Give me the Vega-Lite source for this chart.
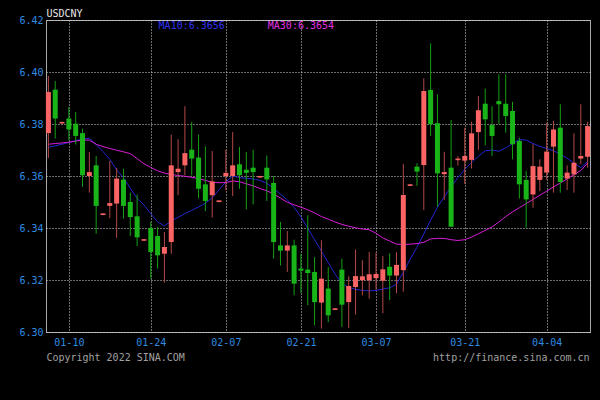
{
  "$schema": "https://vega.github.io/schema/vega-lite/v6.json",
  "autosize": {"type": "none"},
  "padding": {"left": 46, "top": 20, "right": 10, "bottom": 68},
  "width": 544,
  "height": 312,
  "background": "#000000",
  "config": {
    "view": {"stroke": "#a8a8a8", "strokeWidth": 1},
    "axis": {
      "domain": false, "ticks": false,
      "labelFont": "DejaVu Sans Mono", "labelFontSize": 10, "labelColor": "#2f8be0",
      "gridColor": "#d8d8d8", "gridDash": [1, 2], "gridWidth": 1, "gridOpacity": 1
    },
    "text": {"font": "DejaVu Sans Mono", "fontSize": 10}
  },
  "data": {"values": [
{"d":"01-06","o":6.3765,"h":6.3985,"l":6.3669,"c":6.3923,"m10":6.3710,"m30":6.3722},
{"d":"01-07","o":6.3932,"h":6.3965,"l":6.3744,"c":6.3821,"m10":6.3716,"m30":6.3725},
{"d":"01-08","o":6.3802,"h":6.3809,"l":6.3801,"c":6.3808,"m10":6.3722,"m30":6.3727},
{"d":"01-10","o":6.3821,"h":6.3865,"l":6.3737,"c":6.3779,"m10":6.3729,"m30":6.3730},
{"d":"01-11","o":6.3801,"h":6.3846,"l":6.3721,"c":6.3754,"m10":6.3736,"m30":6.3734},
{"d":"01-12","o":6.3765,"h":6.3782,"l":6.3558,"c":6.3603,"m10":6.3742,"m30":6.3739},
{"d":"01-13","o":6.3600,"h":6.3692,"l":6.3536,"c":6.3615,"m10":6.3745,"m30":6.3738},
{"d":"01-14","o":6.3641,"h":6.3677,"l":6.3378,"c":6.3485,"m10":6.3721,"m30":6.3722},
{"d":"01-15","o":6.3450,"h":6.3457,"l":6.3449,"c":6.3456,"m10":6.3694,"m30":6.3713},
{"d":"01-17","o":6.3485,"h":6.3658,"l":6.3438,"c":6.3496,"m10":6.3664,"m30":6.3706},
{"d":"01-18","o":6.3494,"h":6.3631,"l":6.3362,"c":6.3590,"m10":6.3623,"m30":6.3699},
{"d":"01-19","o":6.3586,"h":6.3628,"l":6.3436,"c":6.3485,"m10":6.3593,"m30":6.3693},
{"d":"01-20","o":6.3500,"h":6.3536,"l":6.3369,"c":6.3442,"m10":6.3553,"m30":6.3686},
{"d":"01-21","o":6.3445,"h":6.3529,"l":6.3331,"c":6.3364,"m10":6.3514,"m30":6.3667},
{"d":"01-22","o":6.3351,"h":6.3358,"l":6.3350,"c":6.3357,"m10":6.3489,"m30":6.3647},
{"d":"01-24","o":6.3400,"h":6.3423,"l":6.3205,"c":6.3308,"m10":6.3455,"m30":6.3633},
{"d":"01-25","o":6.3369,"h":6.3404,"l":6.3244,"c":6.3295,"m10":6.3424,"m30":6.3620},
{"d":"01-26","o":6.3301,"h":6.3385,"l":6.3190,"c":6.3327,"m10":6.3408,"m30":6.3611},
{"d":"01-27","o":6.3346,"h":6.3759,"l":6.3301,"c":6.3641,"m10":6.3427,"m30":6.3606},
{"d":"01-28","o":6.3615,"h":6.3741,"l":6.3526,"c":6.3628,"m10":6.3441,"m30":6.3602},
{"d":"01-31","o":6.3641,"h":6.3868,"l":6.3603,"c":6.3688,"m10":6.3455,"m30":6.3599},
{"d":"02-01","o":6.3701,"h":6.3808,"l":6.3603,"c":6.3667,"m10":6.3468,"m30":6.3595},
{"d":"02-02","o":6.3671,"h":6.3759,"l":6.3515,"c":6.3551,"m10":6.3481,"m30":6.3590},
{"d":"02-03","o":6.3568,"h":6.3714,"l":6.3465,"c":6.3504,"m10":6.3495,"m30":6.3583},
{"d":"02-04","o":6.3526,"h":6.3696,"l":6.3440,"c":6.3579,"m10":6.3516,"m30":6.3576},
{"d":"02-05","o":6.3500,"h":6.3507,"l":6.3499,"c":6.3506,"m10":6.3547,"m30":6.3574},
{"d":"02-07","o":6.3600,"h":6.3701,"l":6.3545,"c":6.3612,"m10":6.3577,"m30":6.3575},
{"d":"02-08","o":6.3600,"h":6.3769,"l":6.3523,"c":6.3641,"m10":6.3600,"m30":6.3581},
{"d":"02-09","o":6.3645,"h":6.3712,"l":6.3551,"c":6.3603,"m10":6.3594,"m30":6.3578},
{"d":"02-10","o":6.3624,"h":6.3692,"l":6.3472,"c":6.3612,"m10":6.3591,"m30":6.3570},
{"d":"02-11","o":6.3632,"h":6.3701,"l":6.3491,"c":6.3615,"m10":6.3589,"m30":6.3562},
{"d":"02-12","o":6.3594,"h":6.3601,"l":6.3593,"c":6.3600,"m10":6.3583,"m30":6.3552},
{"d":"02-14","o":6.3632,"h":6.3679,"l":6.3504,"c":6.3587,"m10":6.3572,"m30":6.3543},
{"d":"02-15","o":6.3573,"h":6.3600,"l":6.3282,"c":6.3346,"m10":6.3552,"m30":6.3531},
{"d":"02-16","o":6.3333,"h":6.3423,"l":6.3256,"c":6.3313,"m10":6.3530,"m30":6.3515},
{"d":"02-17","o":6.3313,"h":6.3388,"l":6.3231,"c":6.3333,"m10":6.3508,"m30":6.3499},
{"d":"02-18","o":6.3333,"h":6.3355,"l":6.3141,"c":6.3186,"m10":6.3479,"m30":6.3489},
{"d":"02-21","o":6.3244,"h":6.3300,"l":6.3150,"c":6.3236,"m10":6.3443,"m30":6.3480},
{"d":"02-22","o":6.3240,"h":6.3449,"l":6.3103,"c":6.3227,"m10":6.3399,"m30":6.3470},
{"d":"02-23","o":6.3231,"h":6.3288,"l":6.3026,"c":6.3115,"m10":6.3355,"m30":6.3458},
{"d":"02-24","o":6.3113,"h":6.3353,"l":6.3013,"c":6.3205,"m10":6.3311,"m30":6.3444},
{"d":"02-25","o":6.3167,"h":6.3250,"l":6.3038,"c":6.3064,"m10":6.3267,"m30":6.3434},
{"d":"02-26","o":6.3085,"h":6.3092,"l":6.3084,"c":6.3091,"m10":6.3223,"m30":6.3423},
{"d":"02-28","o":6.3240,"h":6.3282,"l":6.3019,"c":6.3105,"m10":6.3187,"m30":6.3414},
{"d":"03-01","o":6.3115,"h":6.3214,"l":6.3015,"c":6.3177,"m10":6.3172,"m30":6.3407},
{"d":"03-02","o":6.3173,"h":6.3317,"l":6.3067,"c":6.3215,"m10":6.3164,"m30":6.3401},
{"d":"03-03","o":6.3199,"h":6.3276,"l":6.3141,"c":6.3214,"m10":6.3160,"m30":6.3396},
{"d":"03-04","o":6.3199,"h":6.3308,"l":6.3128,"c":6.3222,"m10":6.3158,"m30":6.3393},
{"d":"03-07","o":6.3207,"h":6.3305,"l":6.3162,"c":6.3223,"m10":6.3160,"m30":6.3380},
{"d":"03-08","o":6.3197,"h":6.3293,"l":6.3072,"c":6.3241,"m10":6.3165,"m30":6.3362},
{"d":"03-09","o":6.3251,"h":6.3303,"l":6.3123,"c":6.3217,"m10":6.3170,"m30":6.3350},
{"d":"03-10","o":6.3217,"h":6.3307,"l":6.3149,"c":6.3258,"m10":6.3184,"m30":6.3338},
{"d":"03-11","o":6.3238,"h":6.3646,"l":6.3155,"c":6.3527,"m10":6.3230,"m30":6.3336},
{"d":"03-12","o":6.3562,"h":6.3569,"l":6.3561,"c":6.3568,"m10":6.3280,"m30":6.3338},
{"d":"03-14","o":6.3636,"h":6.3649,"l":6.3562,"c":6.3617,"m10":6.3326,"m30":6.3340},
{"d":"03-15","o":6.3642,"h":6.3976,"l":6.3469,"c":6.3927,"m10":6.3377,"m30":6.3345},
{"d":"03-16","o":6.3931,"h":6.4110,"l":6.3754,"c":6.3799,"m10":6.3430,"m30":6.3358},
{"d":"03-17","o":6.3803,"h":6.3914,"l":6.3482,"c":6.3610,"m10":6.3480,"m30":6.3360},
{"d":"03-18","o":6.3607,"h":6.3693,"l":6.3508,"c":6.3615,"m10":6.3520,"m30":6.3360},
{"d":"03-19","o":6.3632,"h":6.3815,"l":6.3405,"c":6.3405,"m10":6.3558,"m30":6.3355},
{"d":"03-20","o":6.3661,"h":6.3676,"l":6.3640,"c":6.3667,"m10":6.3594,"m30":6.3352},
{"d":"03-21","o":6.3659,"h":6.3786,"l":6.3569,"c":6.3677,"m10":6.3625,"m30":6.3355},
{"d":"03-22","o":6.3662,"h":6.3809,"l":6.3629,"c":6.3764,"m10":6.3652,"m30":6.3365},
{"d":"03-23","o":6.3769,"h":6.3908,"l":6.3700,"c":6.3853,"m10":6.3676,"m30":6.3378},
{"d":"03-24","o":6.3878,"h":6.3936,"l":6.3718,"c":6.3818,"m10":6.3697,"m30":6.3391},
{"d":"03-25","o":6.3796,"h":6.3869,"l":6.3677,"c":6.3754,"m10":6.3700,"m30":6.3404},
{"d":"03-26","o":6.3888,"h":6.3991,"l":6.3799,"c":6.3876,"m10":6.3695,"m30":6.3423},
{"d":"03-28","o":6.3878,"h":6.3991,"l":6.3767,"c":6.3831,"m10":6.3708,"m30":6.3444},
{"d":"03-29","o":6.3850,"h":6.3885,"l":6.3664,"c":6.3722,"m10":6.3725,"m30":6.3462},
{"d":"03-30","o":6.3735,"h":6.3747,"l":6.3513,"c":6.3568,"m10":6.3740,"m30":6.3478},
{"d":"03-31","o":6.3585,"h":6.3619,"l":6.3401,"c":6.3510,"m10":6.3738,"m30":6.3494},
{"d":"04-01","o":6.3529,"h":6.3722,"l":6.3478,"c":6.3638,"m10":6.3725,"m30":6.3510},
{"d":"04-02","o":6.3585,"h":6.3664,"l":6.3542,"c":6.3636,"m10":6.3714,"m30":6.3526},
{"d":"04-04","o":6.3613,"h":6.3805,"l":6.3585,"c":6.3694,"m10":6.3706,"m30":6.3542},
{"d":"04-05","o":6.3713,"h":6.3812,"l":6.3536,"c":6.3779,"m10":6.3697,"m30":6.3558},
{"d":"04-06","o":6.3786,"h":6.3876,"l":6.3536,"c":6.3577,"m10":6.3684,"m30":6.3573},
{"d":"04-07","o":6.3590,"h":6.3641,"l":6.3546,"c":6.3613,"m10":6.3668,"m30":6.3589},
{"d":"04-08","o":6.3606,"h":6.3764,"l":6.3536,"c":6.3651,"m10":6.3650,"m30":6.3605},
{"d":"04-09","o":6.3667,"h":6.3876,"l":6.3645,"c":6.3677,"m10":6.3632,"m30":6.3621},
{"d":"04-11","o":6.3674,"h":6.3808,"l":6.3632,"c":6.3792,"m10":6.3656,"m30":6.3650}
  ]},
  "encoding": {
    "x": {
      "field": "d", "type": "ordinal", "title": null,
      "scale": {"type": "point", "padding": 0.35},
      "axis": {"values": ["01-10", "01-24", "02-07", "02-21", "03-07", "03-21", "04-04"], "labelAngle": 0, "labelPadding": 5, "grid": true}
    }
  },
  "layer": [
    {
      "mark": {"type": "line", "color": "#2424d0", "strokeWidth": 1},
      "encoding": {
        "y": {"field": "m10", "type": "quantitative", "title": null,
              "scale": {"domain": [6.3, 6.42], "nice": false, "zero": false},
              "axis": {"values": [6.3, 6.32, 6.34, 6.36, 6.38, 6.4, 6.42], "format": ".2f", "labelPadding": 3, "grid": true}}
      }
    },
    {
      "mark": {"type": "line", "color": "#d81ed8", "strokeWidth": 1},
      "encoding": {
        "y": {"field": "m30", "type": "quantitative", "title": null,
              "scale": {"domain": [6.3, 6.42], "nice": false, "zero": false}}
      }
    },
    {
      "mark": {"type": "rule", "strokeWidth": 1},
      "encoding": {
        "y": {"field": "l", "type": "quantitative", "title": null,
              "scale": {"domain": [6.3, 6.42], "nice": false, "zero": false}},
        "y2": {"field": "h"},
        "color": {"condition": {"test": "datum.c >= datum.o", "value": "#b44848"}, "value": "#14a014"}
      }
    },
    {
      "mark": {"type": "bar", "width": 5},
      "encoding": {
        "y": {"field": "o", "type": "quantitative", "title": null,
              "scale": {"domain": [6.3, 6.42], "nice": false, "zero": false}},
        "y2": {"field": "c"},
        "color": {"condition": {"test": "datum.c >= datum.o", "value": "#fa6464"}, "value": "#18b418"}
      }
    },
    {
      "data": {"values": [{}]},
      "mark": {"type": "text", "align": "left", "baseline": "middle", "color": "#e6e6e6", "dx": -2},
      "encoding": {
        "x": {"datum": "01-06", "type": "ordinal"},
        "y": {"datum": 6.4225, "type": "quantitative", "scale": {"domain": [6.3, 6.42], "nice": false, "zero": false}},
        "text": {"value": "USDCNY"}
      }
    },
    {
      "data": {"values": [{}]},
      "mark": {"type": "text", "align": "left", "baseline": "middle", "color": "#3030f0", "dx": 1},
      "encoding": {
        "x": {"datum": "01-25", "type": "ordinal"},
        "y": {"datum": 6.4177, "type": "quantitative", "scale": {"domain": [6.3, 6.42], "nice": false, "zero": false}},
        "text": {"value": "MA10:6.3656"}
      }
    },
    {
      "data": {"values": [{}]},
      "mark": {"type": "text", "align": "left", "baseline": "middle", "color": "#e030e0", "dx": 1},
      "encoding": {
        "x": {"datum": "02-14", "type": "ordinal"},
        "y": {"datum": 6.4177, "type": "quantitative", "scale": {"domain": [6.3, 6.42], "nice": false, "zero": false}},
        "text": {"value": "MA30:6.3654"}
      }
    },
    {
      "data": {"values": [{}]},
      "mark": {"type": "text", "align": "left", "baseline": "middle", "color": "#a0a0a0", "dx": -2},
      "encoding": {
        "x": {"datum": "01-06", "type": "ordinal"},
        "y": {"datum": 6.29, "type": "quantitative", "scale": {"domain": [6.3, 6.42], "nice": false, "zero": false}},
        "text": {"value": "Copyright 2022 SINA.COM"}
      }
    },
    {
      "data": {"values": [{}]},
      "mark": {"type": "text", "align": "right", "baseline": "middle", "color": "#a0a0a0", "dx": 2},
      "encoding": {
        "x": {"datum": "04-11", "type": "ordinal"},
        "y": {"datum": 6.29, "type": "quantitative", "scale": {"domain": [6.3, 6.42], "nice": false, "zero": false}},
        "text": {"value": "http://finance.sina.com.cn"}
      }
    }
  ]
}
